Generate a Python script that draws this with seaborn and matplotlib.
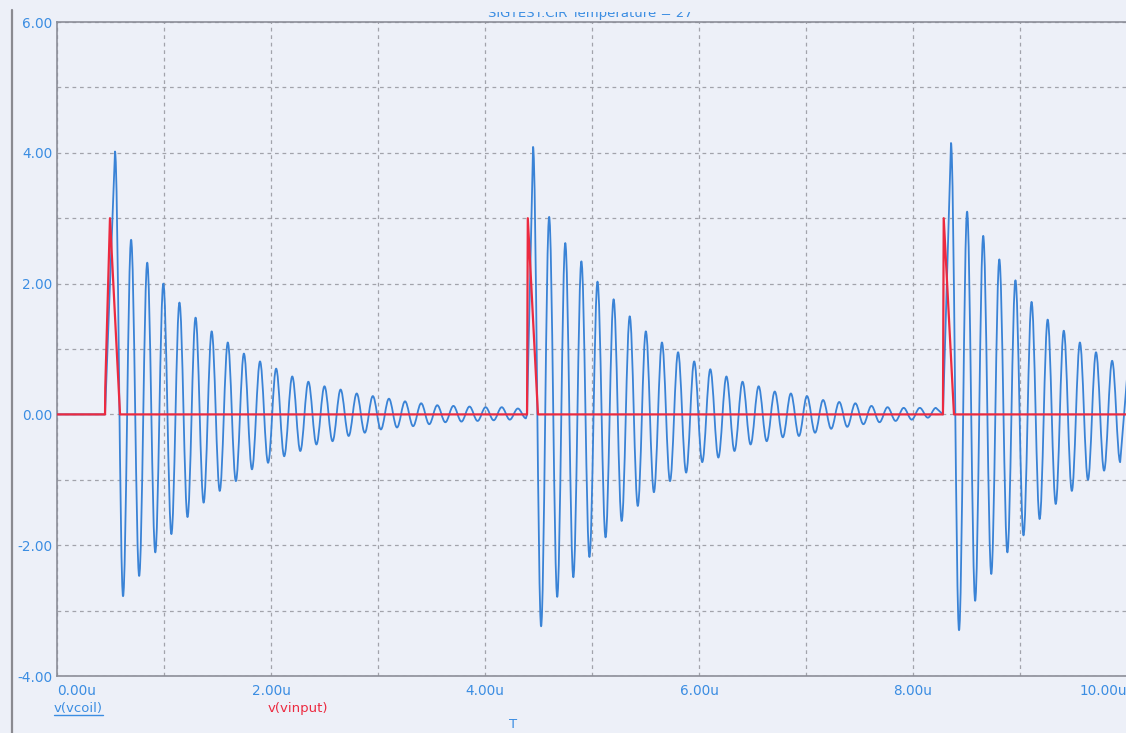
import numpy as np
import pandas as pd
import seaborn as sns
import matplotlib.pyplot as plt
from matplotlib.lines import Line2D
from matplotlib.path import Path
from matplotlib.patches import PathPatch
from matplotlib.transforms import Bbox, TransformedBbox

# time axis in microseconds
HALF_PERIOD = 0.0753

# burst onsets and first peak of the ringing
burst_onsets = [0.449, 4.393, 8.280]
burst_first_peak = [0.542, 4.449, 8.355]

# successive peaks / troughs of v(vcoil) in each burst (volts)
burst1_extrema = [4.02, -2.78, 2.67, -2.47, 2.32, -2.11, 2.00, -1.83, 1.71, -1.57,
                  1.48, -1.35, 1.27, -1.17, 1.10, -1.02, 0.93, -0.84, 0.81, -0.74,
                  0.70, -0.64, 0.58, -0.56, 0.50, -0.46, 0.43, -0.41, 0.38, -0.33,
                  0.32, -0.28, 0.28, -0.23, 0.24, -0.20, 0.20, -0.18, 0.17, -0.15,
                  0.14, -0.12, 0.13, -0.11, 0.12, -0.10, 0.11, -0.09, 0.11, -0.08,
                  0.09, -0.06]
burst2_extrema = [4.09, -3.24, 3.02, -2.79, 2.62, -2.49, 2.34, -2.18, 2.03, -1.88,
                  1.76, -1.63, 1.50, -1.40, 1.27, -1.19, 1.10, -1.02, 0.95, -0.89,
                  0.81, -0.73, 0.69, -0.66, 0.58, -0.56, 0.50, -0.46, 0.43, -0.41,
                  0.35, -0.35, 0.32, -0.33, 0.28, -0.28, 0.22, -0.22, 0.19, -0.19,
                  0.17, -0.15, 0.13, -0.12, 0.11, -0.10, 0.10, -0.08, 0.10, -0.05,
                  0.10]
burst3_extrema = [4.15, -3.30, 3.10, -2.85, 2.73, -2.44, 2.37, -2.11, 2.05, -1.85,
                  1.72, -1.60, 1.45, -1.37, 1.28, -1.17, 1.10, -1.00, 0.95, -0.86,
                  0.82, -0.73]
vcoil_end = (10.0, 0.55)

# v(vinput) pulse trace
vinput_t = [0.0, 0.449, 0.451, 0.495, 0.589, 4.393, 4.400, 4.495, 8.280, 8.287, 8.383, 10.0]
vinput_v = [0.0, 0.0, 0.4, 3.0, 0.0, 0.0, 3.0, 0.0, 0.0, 3.0, 0.0, 0.0]

x_ticks = np.arange(0, 11, 1)
y_ticks = np.arange(-4, 7, 1)

BLUE = "#3a83d6"
RED = "#ec2a40"
TEXT_BLUE = "#3b8de2"
BG = "#edf0f8"
GRID = "#a2a3ab"

# vcoil trace: straight segments up to each burst, smooth swings between extrema
verts = [(0.0, 0.0)]
codes = [Path.MOVETO]
for onset, first, ext in zip(burst_onsets, burst_first_peak,
                             [burst1_extrema, burst2_extrema, burst3_extrema]):
    verts += [(onset, 0.0), (first, ext[0])]
    codes += [Path.LINETO, Path.LINETO]
    t0, v0 = first, ext[0]
    for v1 in ext[1:]:
        t1 = t0 + HALF_PERIOD
        d = 0.36 * HALF_PERIOD
        verts += [(t0 + d, v0), (t1 - d, v1), (t1, v1)]
        codes += [Path.CURVE4] * 3
        t0, v0 = t1, v1
verts.append(vcoil_end)
codes.append(Path.LINETO)

vinput = pd.DataFrame({"t": vinput_t, "v": vinput_v})

sns.set_style("white", {"axes.facecolor": BG, "figure.facecolor": BG})
plt.rcParams["font.family"] = ["DejaVu Sans"]

W, H = 1126, 733
fig = plt.figure(figsize=(W / 100, H / 100), dpi=100)
fig.patch.set_facecolor(BG)
ax = fig.add_axes([57 / W, (H - 676) / H, 1070 / W, 654 / H])
ax.set_facecolor(BG)

ax.add_patch(PathPatch(Path(verts, codes), fill=False, edgecolor=BLUE,
                       linewidth=1.3, zorder=3, joinstyle="round"))
sns.lineplot(data=vinput, x="t", y="v", ax=ax, color=RED, linewidth=1.6,
             estimator=None, sort=False, zorder=4)

ax.set_xlim(0, 10)
ax.set_ylim(-4, 6)
ax.set_xticks(x_ticks)
ax.set_xticklabels([f"{v:.2f}u" if v % 2 == 0 else "" for v in x_ticks])
ax.set_yticks(y_ticks)
ax.set_yticklabels([f"{v:.2f}" if v % 2 == 0 else "" for v in y_ticks])
ax.tick_params(axis="both", length=0, labelsize=9.8, labelcolor=TEXT_BLUE)
ax.tick_params(axis="x", pad=5.5)
ax.tick_params(axis="y", pad=3.5)
labels = ax.get_xticklabels()
labels[0].set_ha("left")
labels[-1].set_ha("right")
ax.set_xlabel("")
ax.set_ylabel("")

ax.grid(True, color=GRID, linestyle=(0, (3, 3)), linewidth=0.9)
ax.set_axisbelow(True)
for side in ["left", "bottom", "top"]:
    ax.spines[side].set_color("#8c8e98")
    ax.spines[side].set_linewidth(1.2)
ax.spines["right"].set_visible(False)

# title, cut off at the top edge like the reference
title = fig.text(590 / W, 1 - 17.5 / H, "SIGTEST.CIR Temperature = 27", color=TEXT_BLUE,
                 fontsize=9.5, ha="center", va="baseline")
title.set_clip_on(True)
title.set_clip_box(TransformedBbox(Bbox([[0, 0], [1, 1 - 11.5 / H]]), fig.transFigure))

# trace legend and time axis name
leg1 = fig.text(54 / W, 1 - 712 / H, "v(vcoil)", color=TEXT_BLUE, fontsize=9.5, va="baseline")
fig.text(268 / W, 1 - 712 / H, "v(vinput)", color=RED, fontsize=9.5, va="baseline")
fig.text(513 / W, 1 - 724 / H, "T", color=TEXT_BLUE, fontsize=9.5, ha="center", va="center")

fig.canvas.draw()
bb = leg1.get_window_extent(fig.canvas.get_renderer())
uy = 1 - 715 / H
fig.add_artist(Line2D([bb.x0 / W, bb.x1 / W], [uy, uy], color=TEXT_BLUE, linewidth=1))

# left frame line of the scanned window
fig.add_artist(Line2D([12 / W, 12 / W], [0, 1 - 10 / H], color="#8a8a90", linewidth=1.6))

fig.savefig("out.png", dpi=100, facecolor=BG)
